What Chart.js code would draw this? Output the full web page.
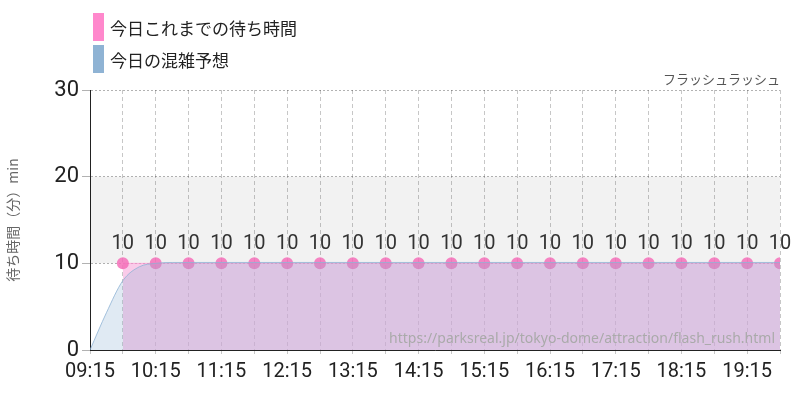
<!DOCTYPE html>
<html><head><meta charset="utf-8">
<script src="https://cdn.jsdelivr.net/npm/chart.js@4"></script>
<style>
body{margin:0;background:#fff;font-family:"Noto Sans CJK JP",sans-serif;}
#wrap{position:relative;width:800px;height:400px;}
.lg{position:absolute;left:93px;font-size:17px;color:#222;display:flex;align-items:center;}
.lg span{display:inline-block;width:11px;height:28px;margin-right:6px;}
</style></head><body>
<div id="wrap">
<div class="lg" style="top:13px"><span style="background:#ff88cc"></span>今日これまでの待ち時間</div>
<div class="lg" style="top:45px"><span style="background:#8fb3d4"></span>今日の混雑予想</div>
<canvas id="c" width="800" height="400"></canvas>
</div>
<script>
const actualTimes=["09:45","10:15","10:45","11:15","11:45","12:15","12:45","13:15","13:45","14:15","14:45","15:15","15:45","16:15","16:45","17:15","17:45","18:15","18:45","19:15","19:45"];
const actualWaits=[10,10,10,10,10,10,10,10,10,10,10,10,10,10,10,10,10,10,10,10,10];
const forecastTimes=["09:15","09:30","09:45","10:00","10:15","10:30","10:45","19:45"];
const forecastWaits=[0,4.3,8,9.6,10.0,10.1,10.1,10.1];
const tickLabels=["09:15","10:15","11:15","12:15","13:15","14:15","15:15","16:15","17:15","18:15","19:15"];
const toMin=t=>{const [h,m]=t.split(":").map(Number);return h*60+m;};
const fmt=v=>String(Math.floor(v/60)).padStart(2,"0")+":"+String(v%60).padStart(2,"0");
const FONT='"Liberation Sans Narrow","Roboto",sans-serif';
const band={id:'band',beforeDatasetsDraw(ch){const {ctx,chartArea:a,scales:{y}}=ch;ctx.save();ctx.fillStyle='rgba(0,0,0,0.05)';ctx.fillRect(a.left,y.getPixelForValue(20),a.right-a.left,y.getPixelForValue(10)-y.getPixelForValue(20));ctx.restore();}};
const labels={id:'lbl',afterDatasetsDraw(ch){const {ctx}=ch;const m=ch.getDatasetMeta(1);ctx.save();ctx.font='20px '+FONT;ctx.fillStyle='#333';ctx.textAlign='center';ctx.textBaseline='bottom';m.data.forEach((p,i)=>ctx.fillText(String(actualWaits[i]),p.x,p.y-9));ctx.font='13px "Noto Sans CJK JP"';ctx.fillStyle='#555';ctx.textAlign='right';ctx.fillText('フラッシュラッシュ',ch.chartArea.right,ch.chartArea.top-4);ctx.font='14px "Noto Sans"';ctx.fillStyle='#aaa';ctx.fillText('https://parksreal.jp/tokyo-dome/attraction/flash_rush.html',ch.chartArea.right-5,ch.chartArea.bottom-4);ctx.restore();}};
new Chart(document.getElementById('c'),{
type:'line',
data:{datasets:[
{data:forecastTimes.map((t,i)=>({x:toMin(t),y:forecastWaits[i]})),borderColor:'rgba(143,179,212,0.8)',borderWidth:1,backgroundColor:'rgba(143,179,212,0.28)',fill:'origin',pointRadius:0,cubicInterpolationMode:'monotone'},
{data:actualTimes.map((t,i)=>({x:toMin(t),y:actualWaits[i]})),borderColor:'rgba(255,136,204,0.6)',borderWidth:1,backgroundColor:'rgba(245,160,215,0.55)',fill:'origin',pointRadius:6,pointBackgroundColor:'rgba(245,110,185,0.85)',pointBorderWidth:0,tension:0}
]},
options:{responsive:false,animation:false,
layout:{padding:{left:0,right:20,top:90,bottom:10}},
plugins:{legend:{display:false},tooltip:{enabled:false}},
scales:{
x:{type:'linear',min:toMin("09:15"),max:toMin("19:45"),
afterBuildTicks(ax){const t=[];for(let v=toMin("09:15");v<=toMin("19:45");v+=30)t.push({value:v});ax.ticks=t;},
ticks:{autoSkip:false,maxRotation:0,padding:6,color:'#222',font:{family:FONT,size:20},callback:v=>tickLabels.includes(fmt(v))?fmt(v):''},
grid:{color:'rgba(0,0,0,0.22)',tickLength:4,drawTicks:true},border:{display:true,color:'#222',dash:[4,3]},
},
y:{min:0,max:30,afterFit(ax){ax.width=90;},ticks:{stepSize:10,color:'#222',font:{family:FONT,size:22}},
title:{display:true,text:'待ち時間（分）min',color:'#666',font:{family:'"Noto Sans CJK JP"',size:14}},
grid:{color:'rgba(0,0,0,0.3)'},border:{color:'#222',dash:[2,2]}}
}},
plugins:[band,labels]
});
</script></body></html>
